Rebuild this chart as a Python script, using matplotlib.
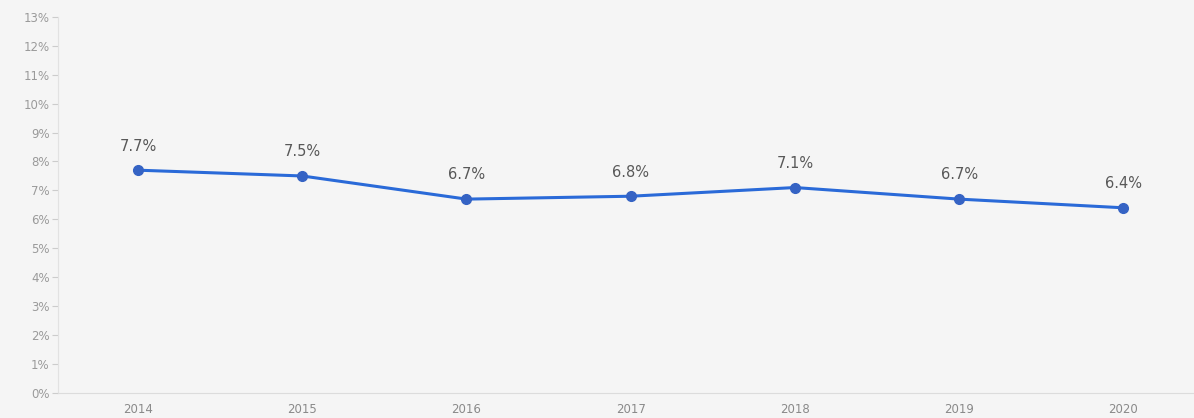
import matplotlib.pyplot as plt
from matplotlib.ticker import FuncFormatter, MultipleLocator

years = ["2014", "2015", "2016", "2017", "2018", "2019", "2020"]
rates = [7.7, 7.5, 6.7, 6.8, 7.1, 6.7, 6.4]

bg = "#f5f5f5"
line_color = "#2a6ad8"
marker_color = "#3563c4"

fig = plt.figure(figsize=(11.94, 4.18), dpi=100, facecolor=bg)
ax = fig.add_axes([0.0486, 0.0598, 0.9514, 0.9])
ax.set_facecolor(bg)

x = list(range(len(years)))
ax.plot(x, rates, color=line_color, linewidth=2.2, marker="o",
        markersize=7, markerfacecolor=marker_color, markeredgecolor=marker_color,
        zorder=3)

# value labels above each point
for xi, v in zip(x, rates):
    ax.annotate(f"{v}%", (xi, v), xytext=(0, 12), textcoords="offset points",
                ha="center", va="bottom", fontsize=10.5, color="#585858")

ax.set_xlim(-0.487, 6.43)
ax.set_ylim(0, 13)
ax.set_xticks(x)
ax.set_xticklabels(years)
ax.yaxis.set_major_locator(MultipleLocator(1))
ax.yaxis.set_major_formatter(FuncFormatter(lambda v, _: f"{int(v)}%"))

for side in ["top", "right"]:
    ax.spines[side].set_visible(False)
ax.spines["left"].set_color("#e2e2e2")
ax.spines["bottom"].set_color("#dcdcdc")
ax.tick_params(axis="y", length=4, color="#cccccc", labelsize=8.5,
               labelcolor="#9a9a9a", pad=2)
ax.tick_params(axis="x", length=0, labelsize=8.5, labelcolor="#8a8a8a", pad=7)

fig.savefig("out.png", dpi=100, facecolor=bg)
